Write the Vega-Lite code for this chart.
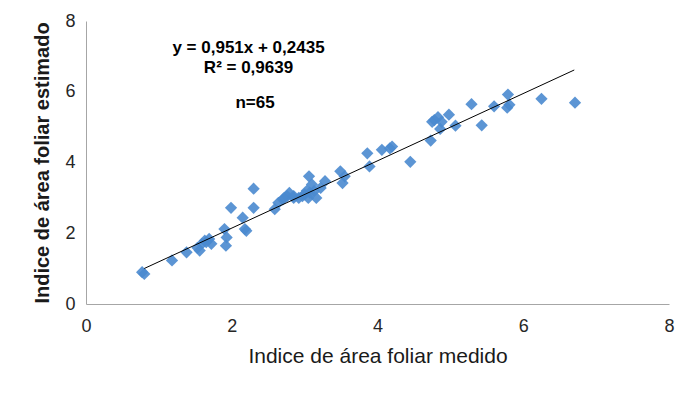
{
  "$schema": "https://vega.github.io/schema/vega-lite/v6.json",
  "width": 583,
  "height": 283,
  "autosize": "none",
  "padding": {"left": 86, "top": 21, "right": 29, "bottom": 91},
  "background": "white",
  "config": {
    "view": {"stroke": null},
    "font": "Liberation Sans"
  },
  "datasets": {
    "pts": [
      {"medido": 0.77, "estimado": 0.90},
      {"medido": 0.80, "estimado": 0.85},
      {"medido": 1.18, "estimado": 1.23},
      {"medido": 1.38, "estimado": 1.46},
      {"medido": 1.53, "estimado": 1.59},
      {"medido": 1.59, "estimado": 1.70},
      {"medido": 1.63, "estimado": 1.79},
      {"medido": 1.69, "estimado": 1.84},
      {"medido": 1.72, "estimado": 1.70},
      {"medido": 1.56, "estimado": 1.51},
      {"medido": 1.65, "estimado": 1.75},
      {"medido": 1.90, "estimado": 2.12},
      {"medido": 1.93, "estimado": 1.88},
      {"medido": 1.92, "estimado": 1.65},
      {"medido": 1.99, "estimado": 2.72},
      {"medido": 2.15, "estimado": 2.44},
      {"medido": 2.18, "estimado": 2.12},
      {"medido": 2.20, "estimado": 2.07},
      {"medido": 2.30, "estimado": 2.72},
      {"medido": 2.30, "estimado": 3.26},
      {"medido": 2.59, "estimado": 2.68},
      {"medido": 2.64, "estimado": 2.86},
      {"medido": 2.70, "estimado": 2.96},
      {"medido": 2.72, "estimado": 3.00},
      {"medido": 2.76, "estimado": 3.05},
      {"medido": 2.79, "estimado": 3.14},
      {"medido": 2.85, "estimado": 3.00},
      {"medido": 2.85, "estimado": 3.05},
      {"medido": 2.92, "estimado": 3.00},
      {"medido": 2.97, "estimado": 3.05},
      {"medido": 3.00, "estimado": 3.10},
      {"medido": 3.05, "estimado": 3.00},
      {"medido": 3.06, "estimado": 3.61},
      {"medido": 3.07, "estimado": 3.15},
      {"medido": 3.10, "estimado": 3.38},
      {"medido": 3.13, "estimado": 3.19},
      {"medido": 3.16, "estimado": 3.00},
      {"medido": 3.22, "estimado": 3.28},
      {"medido": 3.28, "estimado": 3.47},
      {"medido": 3.49, "estimado": 3.75},
      {"medido": 3.52, "estimado": 3.42},
      {"medido": 3.55, "estimado": 3.61},
      {"medido": 3.86, "estimado": 4.26},
      {"medido": 3.89, "estimado": 3.89},
      {"medido": 4.06, "estimado": 4.36},
      {"medido": 4.17, "estimado": 4.40},
      {"medido": 4.20, "estimado": 4.45},
      {"medido": 4.45, "estimado": 4.02},
      {"medido": 4.73, "estimado": 4.62},
      {"medido": 4.75, "estimado": 5.15},
      {"medido": 4.78, "estimado": 5.20},
      {"medido": 4.83, "estimado": 5.28},
      {"medido": 4.86, "estimado": 4.95},
      {"medido": 4.88, "estimado": 5.15},
      {"medido": 4.98, "estimado": 5.35},
      {"medido": 5.07, "estimado": 5.04},
      {"medido": 5.29, "estimado": 5.65},
      {"medido": 5.43, "estimado": 5.05},
      {"medido": 5.60, "estimado": 5.59},
      {"medido": 5.79, "estimado": 5.92},
      {"medido": 5.81, "estimado": 5.63},
      {"medido": 5.78, "estimado": 5.55},
      {"medido": 6.25, "estimado": 5.80},
      {"medido": 6.71, "estimado": 5.69},
      {"medido": 3.03, "estimado": 3.20}
    ],
    "fit": [
      {"x1": 0.8, "y1": 1.004, "x2": 6.7, "y2": 6.615}
    ],
    "notes": [
      {"medido": 2.23, "estimado": 7.25, "label": "y = 0,951x + 0,2435"},
      {"medido": 2.23, "estimado": 6.66, "label": "R² = 0,9639"},
      {"medido": 2.32, "estimado": 5.67, "label": "n=65"}
    ]
  },
  "layer": [
    {
      "data": {"name": "pts"},
      "mark": {"type": "point", "shape": "diamond", "filled": true, "size": 150, "color": "#4a89cf", "opacity": 0.9},
      "encoding": {
        "x": {
          "field": "medido", "type": "quantitative",
          "scale": {"domain": [0, 8], "nice": false, "zero": false},
          "axis": {
            "title": "Indice de área foliar medido",
            "titleFontSize": 21, "titleFontWeight": "normal", "titleColor": "#1a1a1a",
            "titlePadding": 10,
            "values": [0, 2, 4, 6, 8], "format": "d", "grid": false, "ticks": false,
            "domainColor": "#a6a6a6", "labelFontSize": 18, "labelColor": "#262626",
            "labelPadding": 13, "labelFlush": false
          }
        },
        "y": {
          "field": "estimado", "type": "quantitative",
          "scale": {"domain": [0, 8], "nice": false, "zero": false},
          "axis": {
            "title": "Indice de área foliar estimado",
            "titleFontSize": 20, "titleFontWeight": "bold", "titleColor": "#1a1a1a",
            "titlePadding": 12,
            "values": [0, 2, 4, 6, 8], "format": "d", "grid": false, "ticks": false,
            "domainColor": "#a6a6a6", "labelFontSize": 18, "labelColor": "#262626",
            "labelPadding": 11, "labelFlush": false
          }
        }
      }
    },
    {
      "data": {"name": "fit"},
      "mark": {"type": "rule", "color": "#000000", "strokeWidth": 1},
      "encoding": {
        "x": {"field": "x1", "type": "quantitative"},
        "y": {"field": "y1", "type": "quantitative"},
        "x2": {"field": "x2"},
        "y2": {"field": "y2"}
      }
    },
    {
      "data": {"name": "notes"},
      "mark": {"type": "text", "fontSize": 17, "fontWeight": "bold", "color": "#000000", "align": "center", "baseline": "middle"},
      "encoding": {
        "x": {"field": "medido", "type": "quantitative"},
        "y": {"field": "estimado", "type": "quantitative"},
        "text": {"field": "label"}
      }
    }
  ]
}
